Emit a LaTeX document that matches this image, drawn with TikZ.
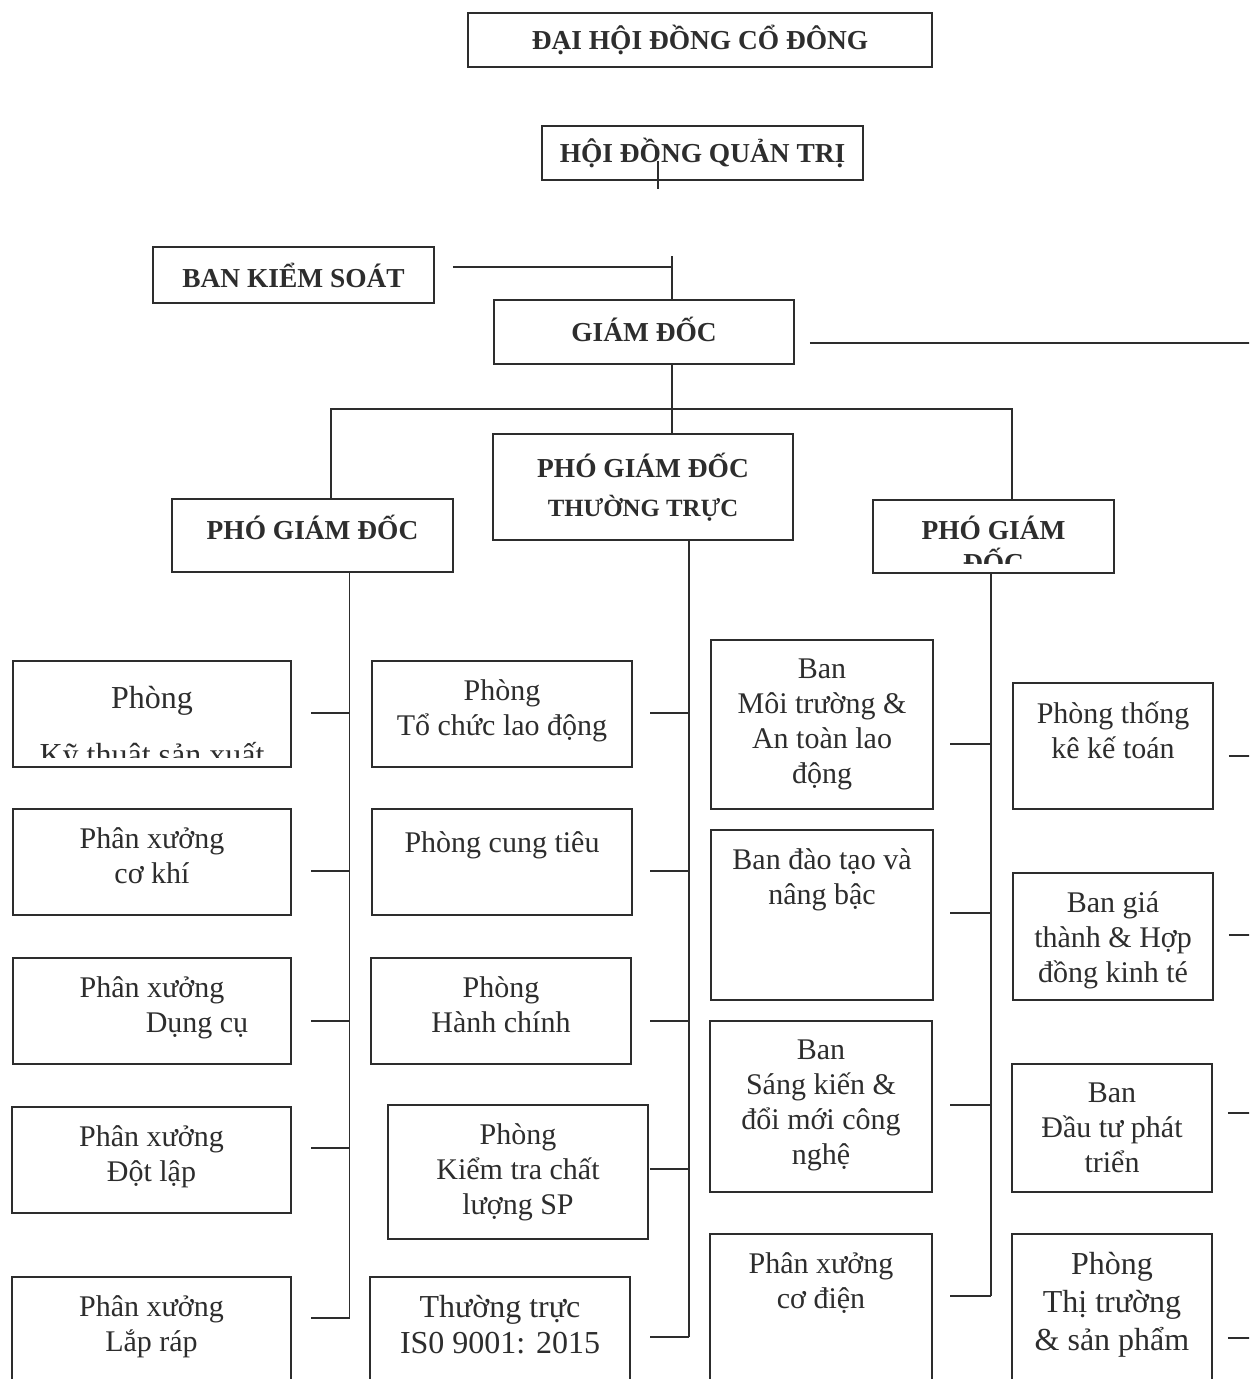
\documentclass[tikz,border=0pt]{standalone}
\usepackage{fontspec}
\setmainfont{Liberation Serif}
\usepackage{tikz}

\definecolor{mau}{RGB}{45,45,45}
\tikzset{
  khung/.style={draw=mau, line width=0.9pt, rectangle, inner sep=0pt},
  tieude/.style={khung, text=mau, align=center, font=\bfseries\fontsize{13.7}{16.5}\selectfont},
  phong/.style={khung},
  noidung/.style={anchor=north, yshift=-9.5pt, inner sep=0pt, align=center, text=mau,
    font=\fontsize{15}{17.5}\selectfont, execute at begin node=\strut},
  noi/.style={draw=mau, line width=0.9pt}
}

\begin{document}
\begin{tikzpicture}[x=0.5pt, y=-0.5pt]
\useasboundingbox (0,0) rectangle (1249,1379);
\clip (0,0) rectangle (1249,1379);

% cap lanh dao
\node[tieude, minimum width=232pt, minimum height=27pt] (dhdcd) at (700,40) {ĐẠI HỘI ĐỒNG CỔ ĐÔNG};
\node[tieude, minimum width=160.5pt, minimum height=27pt] (hdqt) at (702.5,153) {HỘI ĐỒNG QUẢN TRỊ};
\node[tieude, minimum width=140.5pt, minimum height=28pt] (bks) at (293.5,275) {BAN KIỂM SOÁT};
\node[tieude, minimum width=150pt, minimum height=32pt, text depth=3pt] (gd) at (644,332) {GIÁM ĐỐC};
\node[tieude, minimum width=150pt, minimum height=53pt] (pgdtt) at (643,487)
  {PHÓ GIÁM ĐỐC\\[3pt]{\fontsize{12.4}{14}\selectfont THƯỜNG TRỰC}};
\node[tieude, minimum width=140.5pt, minimum height=36.5pt, text depth=8.5pt] (pgdT) at (312.5,535.5) {PHÓ GIÁM ĐỐC};
\node[khung, minimum width=120.5pt, minimum height=36.5pt] (pgdP) at (993.5,536.5) {};
\begin{scope}
  \clip (pgdP.north west) rectangle ([yshift=5pt]pgdP.south east);
  \node[noidung, font=\bfseries\fontsize{13.7}{16.5}\selectfont, yshift=1.5pt] (pgdPchu) at (pgdP.north) {PHÓ GIÁM\\ĐỐC};
\end{scope}

% cot trai
\node[phong, minimum width=139pt, minimum height=53pt] (ktsx) at (152,714) {};
\begin{scope}
  \clip (ktsx.north west) rectangle ([yshift=5pt]ktsx.south east);
  \node[noidung, font=\fontsize{16}{18.5}\selectfont, yshift=-3.25pt] (ktsxchu) at (ktsx.north) {Phòng\\[10pt]Kỹ thuật sản xuất};
\end{scope}
\node[phong, minimum width=139pt, minimum height=53pt, label={[noidung]north:{Phân xưởng\\cơ khí}}] (ckhi) at (152,862) {};
\node[phong, minimum width=139pt, minimum height=53pt, label={[noidung]north:{Phân xưởng\\\hspace*{45pt}Dụng cụ}}] (dcu) at (152,1011) {};
\node[phong, minimum width=139.5pt, minimum height=53pt, label={[noidung]north:{Phân xưởng\\Đột lập}}] (dlap) at (151.5,1160) {};
\node[phong, minimum width=139.5pt, minimum height=61.5pt, label={[noidung]north:{Phân xưởng\\Lắp ráp}}] (lrap) at (151.5,1338.5) {};

% cot giua
\node[phong, minimum width=130pt, minimum height=53pt, label={[noidung]north:{Phòng\\Tổ chức lao động}}] (tcld) at (502,714) {};
\node[phong, minimum width=130pt, minimum height=53pt, label={[noidung]north:{Phòng cung tiêu}}] (ctieu) at (502,862) {};
\node[phong, minimum width=130pt, minimum height=53pt, label={[noidung]north:{Phòng\\Hành chính}}] (hchinh) at (501,1011) {};
\node[phong, minimum width=130pt, minimum height=67pt, label={[noidung]north:{Phòng\\Kiểm tra chất\\lượng SP}}] (ktcl) at (518,1172) {};
\node[phong, minimum width=130pt, minimum height=61.5pt, label={[noidung, font=\fontsize{16}{18}\selectfont]north:{Thường trực\\IS0 9001: 2015}}] (iso) at (500,1338.5) {};

% cot ban
\node[phong, minimum width=111pt, minimum height=84.5pt, label={[noidung]north:{Ban\\Môi trường \&\\An toàn lao\\động}}] (mtruong) at (822,724.5) {};
\node[phong, minimum width=111pt, minimum height=85pt, label={[noidung]north:{Ban đào tạo và\\nâng bậc}}] (daotao) at (822,915) {};
\node[phong, minimum width=111pt, minimum height=85.5pt, label={[noidung]north:{Ban\\Sáng kiến \&\\đổi mới công\\nghệ}}] (sangkien) at (821,1106.5) {};
\node[phong, minimum width=111pt, minimum height=83pt, label={[noidung]north:{Phân xưởng\\cơ điện}}] (codien) at (821,1317) {};

% cot phai
\node[phong, minimum width=100pt, minimum height=63pt, label={[noidung]north:{Phòng thống\\kê kế toán}}] (tkkt) at (1113,746) {};
\node[phong, minimum width=100pt, minimum height=63.5pt, label={[noidung]north:{Ban giá\\thành \& Hợp\\đồng kinh té}}] (giathanh) at (1113,936.5) {};
\node[phong, minimum width=100pt, minimum height=64pt, label={[noidung]north:{Ban\\Đầu tư phát\\triển}}] (dautu) at (1112,1128) {};
\node[phong, minimum width=100pt, minimum height=83pt, label={[noidung, font=\fontsize{16}{19}\selectfont]north:{Phòng\\Thị trường\\\& sản phẩm}}] (thitruong) at (1112,1317) {};

% duong noi cap tren
\coordinate (nGD) at ([xshift=14pt]gd.north);
\draw[noi] ([xshift=-22.25pt,yshift=10pt]hdqt.south) -- ++(0,-14pt);
\draw[noi] ([xshift=9pt,yshift=4pt]bks.east) -- ([yshift=4pt]bks.east -| nGD);
\draw[noi] (nGD) -- ++(0,21.5pt);
\draw[noi] ([xshift=7.5pt,yshift=-5.5pt]gd.east) -- ++(230pt,0);
\draw[noi] ([xshift=14pt]gd.south) -- ([xshift=14.5pt]pgdtt.north);
\draw[noi] ([xshift=9.25pt]pgdT.north) -- ++(0,44.5pt) -| ([xshift=9.25pt]pgdP.north);

% truc doc
\coordinate (trucT) at ([xshift=18.5pt]pgdT.south);
\coordinate (trucG) at ([xshift=23pt]pgdtt.south);
\coordinate (trucP) at ([xshift=-1.25pt]pgdP.south);
\draw[noi] (trucT) -- ([yshift=10.25pt]lrap.east -| trucT);
\draw[noi] (trucG) -- ([yshift=0.75pt]iso.east -| trucG);
\draw[noi] (trucP) -- ([yshift=10.5pt]codien.east -| trucP);

% nhanh ngang
\foreach \ten/\dy in {ktsx/0.5, ckhi/-4.5, dcu/-5, dlap/6, lrap/10.25}
  \draw[noi] ([yshift=\dy pt]\ten.east -| trucT) -- ++(-19.5pt,0);
\foreach \ten/\dy in {tcld/0.5, ctieu/-4.5, hchinh/-5, ktcl/1.5, iso/0.75}
  \draw[noi] ([yshift=\dy pt]\ten.east -| trucG) -- ++(-19.5pt,0);
\foreach \ten/\dy in {mtruong/-9.75, daotao/1, sangkien/0.75, codien/10.5}
  \draw[noi] ([yshift=\dy pt]\ten.east -| trucP) -- ++(-20.5pt,0);
\foreach \ten/\dy in {tkkt/-5, giathanh/0.75, dautu/7.5, thitruong/-10.5}
  \draw[noi] ([xshift=7.5pt,yshift=\dy pt]\ten.east) -- ++(20pt,0);
\end{tikzpicture}
\end{document}
